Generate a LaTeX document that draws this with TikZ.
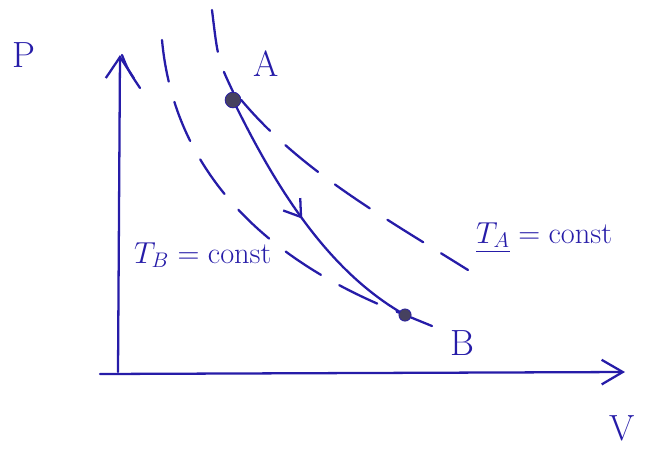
\documentclass[tikz,border=0pt]{standalone}
\usepackage{amsmath}
\usetikzlibrary{arrows.meta}
\usetikzlibrary{decorations.markings}
\definecolor{ink}{RGB}{38,28,168}
\definecolor{dotgrey}{RGB}{70,65,95}

\begin{document}
\begin{tikzpicture}[x=0.02cm, y=-0.02cm,
  pen/.style={ink, line width=1.3pt, line cap=round},
  isotherm/.style={pen, dash pattern=on 24pt off 12pt},
  statept/.style={circle, fill=dotgrey, draw=ink, inner sep=0pt, minimum size=9pt},
  handlabel/.style={ink, font=\huge},
  midarrow/.style={postaction={decorate, decoration={markings,
      mark=at position 0.45 with {\arrow{Straight Barb[length=9pt, width=12pt]}}}}}]
\useasboundingbox (0,0) rectangle (651,450);

% axes
\coordinate (O) at (118,372);
\coordinate (Ptop) at (120,55);
\coordinate (Vend) at (625,372);
\draw[pen, -{Straight Barb[length=12pt, width=16pt]}] (O) -- (Ptop);
\draw[pen, -{Straight Barb[length=12pt, width=14pt]}] (100,374) -- (Vend);
\node[handlabel] (plabel) at (24,55) {P};
\node[handlabel] (vlabel) at (622,428) {V};

% states
\node[statept] (A) at (233,100) {};
\node[statept, minimum size=7pt] (B) at (405,315) {};
\node[handlabel] (alabel) at (266,64) {A};
\node[handlabel] (blabel) at (462,343) {B};

% isotherms
\draw[isotherm] (122,55) .. controls (128,70) .. (140,88);
\draw[isotherm] (162,40) .. controls (172,150) and (240,250) .. (B);
\draw[isotherm] (212,10) .. controls (218,60) .. (A.north)
  (A.east) .. controls (300,170) and (380,215) .. (468,270);

% process A -> B
\draw[pen, midarrow] (A) .. controls (280,195) and (330,270) .. (B)
  -- (432,326);

% labels
\node[handlabel, anchor=west, font=\LARGE] (tblabel) at (128,255) {$T_B = \mathrm{const}$};
\node[handlabel, anchor=west, font=\LARGE] (talabel) at (470,238) {$\underline{T_A} = \mathrm{const}$};
\end{tikzpicture}
\end{document}
